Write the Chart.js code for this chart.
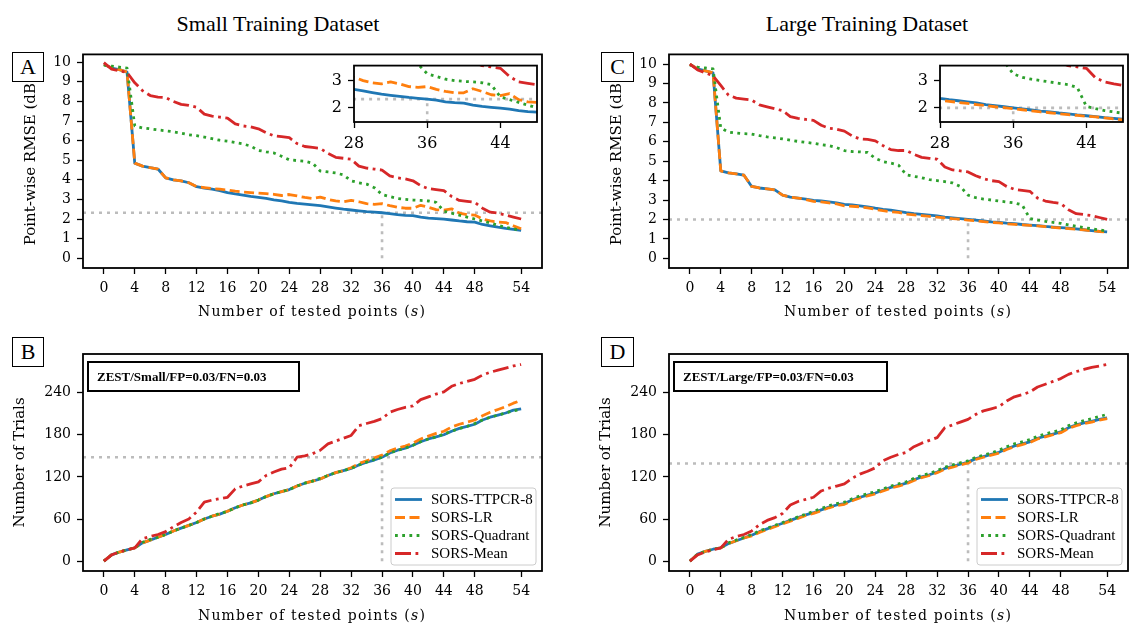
<!DOCTYPE html>
<html>
<head>
<meta charset="utf-8">
<script src="https://cdn.jsdelivr.net/npm/chart.js@4.4.1/dist/chart.umd.min.js"></script>
<style>
  body { margin: 0; width: 1130px; height: 624px; position: relative; background: #fff; overflow: hidden; }
  canvas { position: absolute; }
  .title { position: absolute; width: 400px; text-align: center; font: 22px "Liberation Serif", serif; line-height: 26px; }
  .xt { position: absolute; width: 340px; text-align: center; font: 14px "DejaVu Serif", serif; letter-spacing: 1.2px; line-height: 18px; }
  .tag { position: absolute; box-sizing: border-box; border: 1.5px solid #000; background: #fff; text-align: center; font: 22px "Liberation Serif", serif; }
</style>
</head>
<body>
<div class="title" style="left:78px; top:11px;">Small Training Dataset</div>
<div class="title" style="left:667px; top:11px;">Large Training Dataset</div>

<canvas id="cA" width="560" height="290" style="left:0; top:40px;"></canvas>
<canvas id="cC" width="544" height="290" style="left:586px; top:40px;"></canvas>
<canvas id="cB" width="560" height="294" style="left:0; top:330px;"></canvas>
<canvas id="cD" width="544" height="294" style="left:586px; top:330px;"></canvas>
<canvas id="iA" width="245" height="110" style="left:300px; top:50px;"></canvas>
<canvas id="iC" width="244" height="110" style="left:886px; top:50px;"></canvas>

<div class="xt" style="left:142px; top:302px;">Number of tested points (<i>s</i>)</div>
<div class="xt" style="left:728px; top:302px;">Number of tested points (<i>s</i>)</div>
<div class="xt" style="left:142px; top:606px;">Number of tested points (<i>s</i>)</div>
<div class="xt" style="left:728px; top:606px;">Number of tested points (<i>s</i>)</div>

<div class="tag" style="left:12px; top:52px; width:32px; height:30px; line-height:27px;">A</div>
<div class="tag" style="left:601px; top:52px; width:33px; height:30px; line-height:27px;">C</div>
<div class="tag" style="left:12px; top:337px; width:32px; height:30px; line-height:27px;">B</div>
<div class="tag" style="left:601px; top:337px; width:33px; height:30px; line-height:27px;">D</div>

<script>
// number of tested points
const steps = [0, 1, 2, 3, 4, 5, 6, 7, 8, 9, 10, 11, 12, 13, 14, 15, 16, 17, 18, 19,
  20, 21, 22, 23, 24, 25, 26, 27, 28, 29, 30, 31, 32, 33, 34, 35, 36, 37, 38, 39,
  40, 41, 42, 43, 44, 45, 46, 47, 48, 49, 50, 51, 52, 53, 54];
const xTicks = [0, 4, 8, 12, 16, 20, 24, 28, 32, 36, 40, 44, 48, 54];
const rmseTicks = [0, 1, 2, 3, 4, 5, 6, 7, 8, 9, 10];
const trialTicks = [0, 60, 120, 180, 240];
const insetXTicks = [28, 36, 44];
const insetYTicks = [2, 3];
const seriesNames = ['SORS-TTPCR-8', 'SORS-LR', 'SORS-Quadrant', 'SORS-Mean'];

// small training dataset, point-wise RMSE (dB)
const rmseSmallTTPCR = [9.9, 9.7, 9.62, 9.5, 4.85, 4.7, 4.62, 4.55, 4.1, 4.0,
  3.95, 3.85, 3.65, 3.58, 3.52, 3.45, 3.35, 3.28, 3.22, 3.15,
  3.1, 3.05, 2.98, 2.92, 2.85, 2.8, 2.76, 2.72, 2.68, 2.62,
  2.56, 2.5, 2.46, 2.42, 2.38, 2.35, 2.32, 2.28, 2.22, 2.19,
  2.17, 2.1, 2.05, 2.02, 1.99, 1.95, 1.9, 1.86, 1.84, 1.72,
  1.65, 1.58, 1.52, 1.47, 1.42];
const rmseSmallLR = [9.9, 9.7, 9.62, 9.5, 4.85, 4.7, 4.62, 4.55, 4.1, 4.0,
  3.95, 3.85, 3.65, 3.6, 3.55, 3.52, 3.48, 3.42, 3.38, 3.35,
  3.32, 3.3, 3.26, 3.2, 3.25, 3.18, 3.1, 3.05, 3.12, 3.0,
  2.92, 2.88, 2.95, 2.88, 2.78, 2.75, 2.78, 2.68, 2.6, 2.55,
  2.55, 2.7, 2.6, 2.48, 2.45, 2.52, 2.3, 2.22, 2.2, 2.0,
  1.9, 1.85, 1.82, 1.65, 1.5];
const rmseSmallQuad = [9.85, 9.8, 9.75, 9.7, 6.75, 6.65, 6.6, 6.55, 6.5, 6.45,
  6.38, 6.3, 6.25, 6.18, 6.1, 6.02, 5.97, 5.9, 5.83, 5.72,
  5.5, 5.43, 5.37, 5.2, 5.02, 4.98, 4.95, 4.85, 4.45, 4.4,
  4.35, 4.25, 3.95, 3.85, 3.78, 3.6, 3.25, 3.15, 3.05, 3.0,
  2.97, 2.95, 2.92, 2.85, 2.4, 2.3, 2.2, 2.1, 2.0, 1.9,
  1.8, 1.68, 1.58, 1.5, 1.42];
const rmseSmallMean = [9.98, 9.65, 9.56, 9.48, 8.95, 8.55, 8.3, 8.22, 8.2, 8.0,
  7.85, 7.8, 7.7, 7.35, 7.25, 7.2, 7.15, 6.85, 6.75, 6.7,
  6.6, 6.4, 6.25, 6.2, 6.15, 5.85, 5.7, 5.65, 5.6, 5.35,
  5.15, 5.1, 5.05, 4.7, 4.6, 4.55, 4.5, 4.2, 4.1, 4.05,
  3.95, 3.7, 3.55, 3.5, 3.45, 3.15, 2.95, 2.9, 2.85, 2.55,
  2.35, 2.3, 2.2, 2.1, 2.0];

// large training dataset, point-wise RMSE (dB)
const rmseLargeTTPCR = [10.0, 9.75, 9.65, 9.55, 4.5, 4.4, 4.35, 4.28, 3.7, 3.62,
  3.58, 3.52, 3.25, 3.15, 3.1, 3.05, 2.98, 2.95, 2.9, 2.85,
  2.78, 2.75, 2.7, 2.65, 2.58, 2.52, 2.48, 2.42, 2.35, 2.3,
  2.26, 2.22, 2.18, 2.12, 2.08, 2.04, 2.0, 1.96, 1.92, 1.88,
  1.85, 1.81, 1.78, 1.74, 1.71, 1.68, 1.64, 1.61, 1.58, 1.55,
  1.51, 1.47, 1.43, 1.39, 1.36];
const rmseLargeLR = [10.0, 9.75, 9.65, 9.55, 4.5, 4.4, 4.35, 4.28, 3.7, 3.62,
  3.58, 3.52, 3.25, 3.15, 3.1, 3.03, 2.93, 2.9, 2.85, 2.8,
  2.7, 2.68, 2.65, 2.6, 2.52, 2.45, 2.4, 2.36, 2.28, 2.24,
  2.2, 2.16, 2.12, 2.08, 2.04, 2.01, 1.97, 1.93, 1.89, 1.85,
  1.82, 1.78, 1.75, 1.72, 1.69, 1.67, 1.63, 1.59, 1.56, 1.53,
  1.5, 1.46, 1.42, 1.38, 1.35];
const rmseLargeQuad = [9.95, 9.85, 9.8, 9.75, 6.7, 6.5, 6.45, 6.42, 6.4, 6.32,
  6.25, 6.2, 6.15, 6.08, 6.02, 5.97, 5.92, 5.85, 5.8, 5.7,
  5.55, 5.5, 5.48, 5.45, 5.15, 4.98, 4.9, 4.8, 4.3, 4.22,
  4.15, 4.05, 4.0, 3.95, 3.88, 3.7, 3.25, 3.12, 3.05, 3.0,
  2.95, 2.9, 2.85, 2.75, 2.05, 1.97, 1.9, 1.85, 1.8, 1.72,
  1.65, 1.58, 1.52, 1.46, 1.4];
const rmseLargeMean = [10.0, 9.7, 9.55, 9.4, 8.9, 8.4, 8.25, 8.2, 8.15, 7.9,
  7.8, 7.7, 7.6, 7.3, 7.2, 7.15, 7.1, 6.85, 6.7, 6.65,
  6.55, 6.3, 6.15, 6.12, 6.05, 5.8, 5.6, 5.55, 5.55, 5.35,
  5.2, 5.15, 5.1, 4.7, 4.55, 4.5, 4.45, 4.25, 4.1, 4.0,
  3.95, 3.7, 3.55, 3.5, 3.45, 3.1, 2.95, 2.88, 2.82, 2.5,
  2.3, 2.25, 2.2, 2.1, 2.0];

// small training dataset, number of trials
const trialsSmallTTPCR = [0, 9, 13, 16, 19, 26, 30, 34, 38, 43,
  47, 51, 55, 60, 64, 67, 71, 76, 80, 83,
  87, 92, 96, 99, 102, 107, 111, 114, 117, 122,
  126, 129, 132, 137, 141, 144, 148, 154, 158, 161,
  165, 170, 174, 177, 180, 185, 189, 192, 195, 201,
  205, 208, 211, 215, 217];
const trialsSmallLR = [0, 9, 13, 16, 19, 26, 30, 34, 38, 43,
  47, 51, 55, 60, 64, 67, 71, 76, 80, 83,
  87, 92, 96, 99, 102, 107, 111, 114, 117, 122,
  126, 129, 133, 139, 143, 147, 151, 157, 161, 164,
  168, 174, 178, 182, 185, 191, 195, 198, 201, 207,
  212, 216, 220, 225, 229];
const trialsSmallQuad = [0, 9, 13, 16, 19, 27, 31, 34, 38, 43,
  47, 51, 55, 60, 64, 68, 71, 76, 80, 83,
  87, 92, 96, 99, 102, 107, 111, 114, 118, 122,
  126, 129, 132, 137, 141, 145, 148, 154, 158, 161,
  165, 170, 174, 177, 181, 185, 189, 192, 196, 201,
  205, 208, 211, 214, 216];
const trialsSmallMean = [0, 9, 13, 16, 19, 32, 35, 38, 42, 49,
  55, 60, 70, 84, 87, 89, 91, 103, 107, 110,
  113, 122, 127, 131, 133, 148, 150, 153, 158, 167,
  171, 175, 179, 193, 196, 199, 203, 212, 216, 219,
  221, 230, 234, 238, 241, 249, 253, 256, 259, 265,
  269, 272, 275, 278, 280];

// large training dataset, number of trials
const trialsLargeTTPCR = [0, 10, 14, 17, 19, 25, 29, 33, 37, 42,
  46, 50, 54, 58, 62, 66, 69, 73, 77, 80,
  82, 87, 91, 94, 97, 101, 105, 108, 111, 116,
  120, 123, 127, 132, 135, 138, 141, 146, 149, 152,
  155, 160, 164, 167, 170, 175, 178, 181, 184, 190,
  194, 197, 199, 202, 204];
const trialsLargeLR = [0, 10, 14, 17, 19, 25, 29, 33, 36, 41,
  45, 49, 53, 57, 61, 65, 68, 72, 76, 79,
  81, 86, 90, 93, 96, 100, 104, 107, 110, 115,
  119, 122, 126, 131, 134, 137, 140, 145, 148, 151,
  154, 159, 163, 166, 169, 174, 177, 180, 183, 189,
  193, 196, 198, 201, 203];
const trialsLargeQuad = [0, 10, 14, 17, 19, 26, 30, 34, 38, 43,
  47, 51, 55, 59, 63, 67, 71, 75, 79, 82,
  84, 89, 93, 96, 99, 103, 107, 110, 113, 118,
  122, 125, 129, 134, 137, 140, 143, 148, 151, 154,
  158, 163, 167, 170, 173, 178, 181, 184, 187, 193,
  197, 200, 203, 206, 209];
const trialsLargeMean = [0, 9, 13, 16, 19, 31, 35, 38, 43, 52,
  58, 62, 68, 80, 85, 88, 91, 100, 104, 107,
  110, 118, 124, 128, 133, 143, 148, 152, 155, 163,
  168, 172, 176, 190, 194, 198, 202, 209, 214, 217,
  220, 228, 234, 237, 241, 248, 252, 256, 260, 266,
  270, 273, 276, 278, 280];

// reference (grey dotted) lines
const refStep = 36;
const refRmseSmall = 2.32;
const refRmseLarge = 2.0;
const refTrialsSmall = 148;
const refTrialsLarge = 139;

// ---- styling ----
const LW = 2.8;
const styles = [
  { color: '#1f77b4', dash: [] },
  { color: '#ff7f0e', dash: [10, 4.5] },
  { color: '#2ca02c', dash: [2.8, 4.4] },
  { color: '#d62728', dash: [16, 4.5, 2.8, 4.5] }
];
const tickFont = { family: "'DejaVu Serif', serif", size: 14 };
const XMIN = -2.7, XMAX = 56.7;

function pts(ys) { return steps.map((s, i) => ({ x: s, y: ys[i] })); }

function lineSets(series) {
  return series.map((ys, i) => ({
    label: seriesNames[i], data: pts(ys),
    borderColor: styles[i].color, borderDash: styles[i].dash, borderWidth: LW,
    pointRadius: 0, tension: 0, fill: false, order: 10 - i,
    borderCapStyle: 'butt', borderJoinStyle: 'round'
  }));
}

function refSets(refY) {
  const st = { borderColor: '#bcbcbc', borderDash: [3, 5], borderWidth: 2.6, pointRadius: 0, order: 20, borderCapStyle: 'butt' };
  return [
    Object.assign({ label: 'ref-h', data: [{ x: XMIN, y: refY }, { x: XMAX, y: refY }] }, st),
    Object.assign({ label: 'ref-v', data: [{ x: refStep, y: 0 }, { x: refStep, y: refY }] }, st)
  ];
}

const decor = {
  id: 'decor',
  beforeDraw(chart, args, o) {
    const { ctx, chartArea: a } = chart;
    if (o.whiteBg) {
      ctx.save(); ctx.fillStyle = '#fff';
      ctx.fillRect(a.left, a.top, a.width, a.height);
      ctx.restore();
    }
  },
  afterDraw(chart, args, o) {
    const { ctx, chartArea: a } = chart;
    ctx.save();
    ctx.strokeStyle = '#000'; ctx.lineWidth = 1.8; ctx.setLineDash([]);
    ctx.strokeRect(a.left, a.top, a.width, a.height);
    if (o.note) {
      const w = o.noteWidth, h = 29, x = a.left + 5, y = a.top + 8;
      ctx.fillStyle = '#fff'; ctx.fillRect(x, y, w, h);
      ctx.lineWidth = 2; ctx.strokeRect(x, y, w, h);
      ctx.fillStyle = '#000'; ctx.font = 'bold 13px "Liberation Serif", serif';
      ctx.textBaseline = 'middle'; ctx.textAlign = 'left';
      ctx.fillText(o.note, x + 9, y + h / 2 + 1);
    }
    if (o.legend) {
      const w = 145, h = 77, x = a.right - 6 - w, y = a.bottom - 6 - h;
      ctx.beginPath(); ctx.roundRect(x, y, w, h, 3);
      ctx.fillStyle = 'rgba(255,255,255,0.85)'; ctx.fill();
      ctx.strokeStyle = '#cccccc'; ctx.lineWidth = 1; ctx.stroke();
      ctx.font = '15px "Liberation Serif", serif'; ctx.textBaseline = 'middle';
      seriesNames.forEach((name, i) => {
        const ry = y + 11.5 + i * 18;
        ctx.beginPath(); ctx.setLineDash(styles[i].dash);
        ctx.strokeStyle = styles[i].color; ctx.lineWidth = LW; ctx.lineCap = 'butt';
        ctx.moveTo(x + 4, ry); ctx.lineTo(x + 31, ry); ctx.stroke();
        ctx.setLineDash([]);
        ctx.fillStyle = '#000'; ctx.fillText(name, x + 40, ry + 1);
      });
    }
    ctx.restore();
  }
};

function axis(opts) {
  return {
    type: 'linear', min: opts.min, max: opts.max,
    afterBuildTicks: s => { s.ticks = opts.ticks.map(v => ({ value: v })); },
    afterFit: s => { if (opts.width !== undefined) s.width = opts.width; if (opts.height !== undefined) s.height = opts.height; },
    grid: { drawOnChartArea: false, drawTicks: true, tickLength: 6, tickColor: '#000', tickWidth: 1.3 },
    border: { display: false },
    ticks: { font: opts.font || tickFont, color: '#000', padding: opts.pad || 6, maxRotation: 0, autoSkip: false },
    title: opts.title ? { display: true, text: opts.title, color: '#000',
      font: { family: "'DejaVu Serif', serif", size: 15 }, padding: { top: opts.titlePad, bottom: 0 } } : { display: false }
  };
}

function makeChart(id, datasets, x, y, pad, decorOpts) {
  return new Chart(document.getElementById(id), {
    type: 'line',
    data: { datasets: datasets },
    options: {
      animation: false, responsive: false, events: [],
      layout: { padding: pad },
      plugins: { legend: { display: false }, tooltip: { enabled: false }, decor: decorOpts },
      scales: { x: axis(x), y: axis(y) }
    },
    plugins: [decor]
  });
}

// A: small RMSE
makeChart('cA', refSets(refRmseSmall).concat(lineSets([rmseSmallTTPCR, rmseSmallLR, rmseSmallQuad, rmseSmallMean])),
  { min: XMIN, max: XMAX, ticks: xTicks, height: 62 },
  { min: -0.5, max: 10.4, ticks: rmseTicks, width: 83, title: 'Point-wise RMSE (dB)', titlePad: 22 },
  { top: 12, right: 18, left: 0, bottom: 0 }, {});
// C: large RMSE
makeChart('cC', refSets(refRmseLarge).concat(lineSets([rmseLargeTTPCR, rmseLargeLR, rmseLargeQuad, rmseLargeMean])),
  { min: XMIN, max: XMAX, ticks: xTicks, height: 62 },
  { min: -0.5, max: 10.5, ticks: rmseTicks, width: 83, title: 'Point-wise RMSE (dB)', titlePad: 22 },
  { top: 12, right: 2, left: 0, bottom: 0 }, {});
// B: small trials
makeChart('cB', refSets(refTrialsSmall).concat(lineSets([trialsSmallTTPCR, trialsSmallLR, trialsSmallQuad, trialsSmallMean])),
  { min: XMIN, max: XMAX, ticks: xTicks, height: 53 },
  { min: -14, max: 295, ticks: trialTicks, width: 83, title: 'Number of Trials', titlePad: 11 },
  { top: 24, right: 18, left: 0, bottom: 0 },
  { note: 'ZEST/Small/FP=0.03/FN=0.03', noteWidth: 211, legend: true });
// D: large trials
makeChart('cD', refSets(refTrialsLarge).concat(lineSets([trialsLargeTTPCR, trialsLargeLR, trialsLargeQuad, trialsLargeMean])),
  { min: XMIN, max: XMAX, ticks: xTicks, height: 53 },
  { min: -14, max: 295, ticks: trialTicks, width: 83, title: 'Number of Trials', titlePad: 11 },
  { top: 24, right: 2, left: 0, bottom: 0 },
  { note: 'ZEST/Large/FP=0.03/FN=0.03', noteWidth: 213, legend: true });

// insets (zoom on s = 28..48)
const insetFont = { family: "'DejaVu Serif', serif", size: 16 };
makeChart('iA', refSets(refRmseSmall).concat(lineSets([rmseSmallTTPCR, rmseSmallLR, rmseSmallQuad, rmseSmallMean])),
  { min: 28, max: 48, ticks: insetXTicks, height: 38, font: insetFont, pad: 6 },
  { min: 1.48, max: 3.55, ticks: insetYTicks, width: 54, font: insetFont, pad: 6 },
  { top: 7, right: 8, left: 0, bottom: 0 }, { whiteBg: true });
makeChart('iC', refSets(refRmseLarge).concat(lineSets([rmseLargeTTPCR, rmseLargeLR, rmseLargeQuad, rmseLargeMean])),
  { min: 28, max: 48, ticks: insetXTicks, height: 38, font: insetFont, pad: 6 },
  { min: 1.48, max: 3.55, ticks: insetYTicks, width: 54, font: insetFont, pad: 6 },
  { top: 7, right: 7, left: 0, bottom: 0 }, { whiteBg: true });
</script>
</body>
</html>
